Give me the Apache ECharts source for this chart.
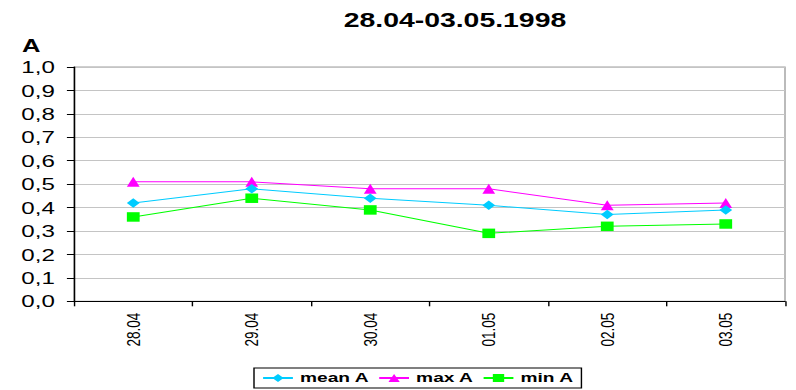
<!DOCTYPE html>
<html>
<head>
<meta charset="utf-8">
<script src="https://cdn.jsdelivr.net/npm/echarts@6/dist/echarts.min.js"></script>
<style>
  html, body { margin: 0; padding: 0; background: #fff; overflow: hidden; }
  #wrap { width: 796px; height: 390px; overflow: hidden; }
  #chart { height: 390px; transform-origin: 0 0; }
</style>
</head>
<body>
<div id="wrap"><div id="chart"></div></div>
<script>
// Daily values of A, 28 April - 3 May 1998
const days = ['28.04', '29.04', '30.04', '01.05', '02.05', '03.05'];
const meanA = [0.42, 0.48, 0.44, 0.41, 0.37, 0.39];
const maxA  = [0.51, 0.51, 0.48, 0.48, 0.41, 0.42];
const minA  = [0.36, 0.44, 0.39, 0.29, 0.32, 0.33];
const yTicks = [0.0, 0.1, 0.2, 0.3, 0.4, 0.5, 0.6, 0.7, 0.8, 0.9, 1.0];

// The chart is laid out narrow and widened horizontally, giving its wide lettering.
const SX = 1.42;
const W = 796 / SX;
const el = document.getElementById('chart');
el.style.width = W + 'px';
el.style.transform = 'scaleX(' + SX + ')';

const FONT = '"Liberation Sans", Arial, sans-serif';
const X = px => px / SX; // convert a page x position into chart units

const chart = echarts.init(el, null, { renderer: 'svg', width: W, height: 390 });

chart.setOption({
  animation: false,
  backgroundColor: '#fff',
  title: {
    text: '28.04-03.05.1998',
    left: X(455) - 78.4,
    top: 10,
    padding: 0,
    textStyle: { fontFamily: FONT, fontSize: 20, fontWeight: 'bold', color: '#000' }
  },
  graphic: [{
    type: 'text',
    x: X(31.3),
    y: 46,
    style: {
      text: 'A',
      fontFamily: FONT, fontSize: 18, fontWeight: 'bold', fill: '#000',
      align: 'center', verticalAlign: 'middle'
    }
  }],
  legend: {
    left: X(254),
    top: 368,
    padding: [3, 5.4],
    itemGap: 6,
    itemWidth: 21,
    itemHeight: 10,
    borderColor: '#000',
    borderWidth: 1,
    textStyle: { fontFamily: FONT, fontSize: 13.5, fontWeight: 'bold', color: '#000' },
    data: ['mean A', 'max A', 'min A']
  },
  grid: {
    left: X(74),
    right: W - X(785),
    top: 67,
    bottom: 390 - 301.3,
    show: true,
    borderColor: '#a0a0a0',
    borderWidth: 1,
    containLabel: false
  },
  xAxis: {
    type: 'category',
    data: days,
    boundaryGap: true,
    axisLine: { lineStyle: { color: '#000', width: 1 } },
    axisTick: { show: true, length: 5, lineStyle: { color: '#000' } },
    axisLabel: {
      rotate: 90,
      margin: 11.5,
      fontFamily: FONT, fontSize: 13.5, color: '#000'
    },
    splitLine: { show: false }
  },
  yAxis: {
    type: 'value',
    min: yTicks[0],
    max: yTicks[yTicks.length - 1],
    interval: 0.1,
    axisLine: { show: true, lineStyle: { color: '#000', width: 1 } },
    axisTick: { show: true, length: 5, lineStyle: { color: '#000' } },
    axisLabel: {
      margin: 13.5,
      fontFamily: FONT, fontSize: 17, color: '#000',
      formatter: v => v.toFixed(1).replace('.', ',')
    },
    splitLine: { show: true, lineStyle: { color: '#c4c4c4', width: 1.2 } }
  },
  series: [
    {
      name: 'mean A', type: 'line', data: meanA,
      symbol: 'diamond', symbolSize: [9, 9.5],
      itemStyle: { color: '#00ccff' },
      lineStyle: { color: '#00ccff', width: 1 },
      z: 3
    },
    {
      name: 'max A', type: 'line', data: maxA,
      symbol: 'triangle', symbolSize: [9, 10],
      itemStyle: { color: '#ff00ff' },
      lineStyle: { color: '#ff00ff', width: 1 },
      z: 2
    },
    {
      name: 'min A', type: 'line', data: minA,
      symbol: 'rect', symbolSize: [9, 9.5],
      itemStyle: { color: '#00ff00' },
      lineStyle: { color: '#00ff00', width: 1 },
      z: 2
    }
  ]
});
</script>
</body>
</html>
